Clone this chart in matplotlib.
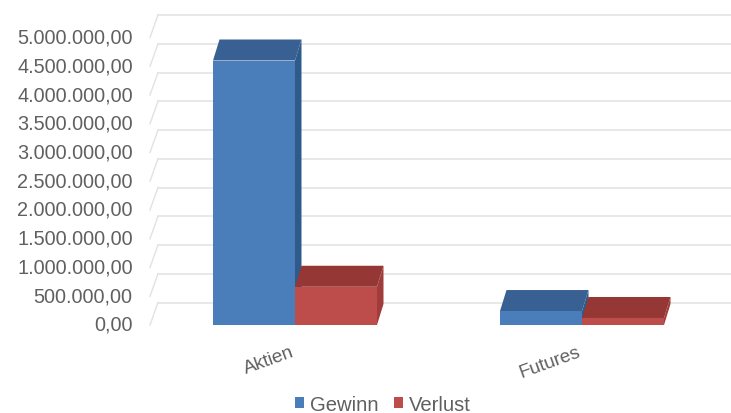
import matplotlib
matplotlib.use("Agg")
import matplotlib.pyplot as plt
from matplotlib.patches import Polygon, Patch
from matplotlib.transforms import ScaledTranslation

categories = ["Aktien", "Futures"]
gewinn = [4600000, 243000]
verlust = [665000, 122000]
y_ticks = [0, 500000, 1000000, 1500000, 2000000, 2500000, 3000000, 3500000, 4000000, 4500000, 5000000]
y_labels = ["0,00", "500.000,00", "1.000.000,00", "1.500.000,00", "2.000.000,00", "2.500.000,00",
            "3.000.000,00", "3.500.000,00", "4.000.000,00", "4.500.000,00", "5.000.000,00"]

W, H = 731, 414
PX_PER_CAT = 287.0
PX_PER_VAL = 57.5 / 1e6
X0_PX, Y0_PX = 295.0, 326.0
DX_PX, DY_PX = 6.5, 21.0
GRID_DX, GRID_DY = 8.0, 22.5
BAR_W = 82.0 / PX_PER_CAT
TEXT = "#606060"
GRID = "#e2e2e2"

plt.rcParams["font.family"] = ["Liberation Sans", "DejaVu Sans"]
fig = plt.figure(figsize=(W / 100, H / 100), dpi=100)
left_px, top_px = 150.0, 10.0
ax = fig.add_axes([left_px / W, (H - Y0_PX) / H, 1 - left_px / W, (Y0_PX - top_px) / H])
ax.set_xlim((left_px - X0_PX) / PX_PER_CAT, (W - X0_PX) / PX_PER_CAT)
ax.set_ylim(0, (Y0_PX - top_px) / PX_PER_VAL)
ax.patch.set_alpha(0)
for s in ax.spines.values():
    s.set_visible(False)

ddx, ddy = DX_PX / PX_PER_CAT, DY_PX / PX_PER_VAL
gdx, gdy = GRID_DX / PX_PER_CAT, GRID_DY / PX_PER_VAL
xmin = ax.get_xlim()[0]
xmax = ax.get_xlim()[1]
for v in y_ticks:
    ax.plot([xmin, xmin + gdx], [v, v + gdy], color=GRID, lw=1.0, zorder=1, clip_on=False)
    ax.plot([xmin + gdx, xmax], [v + gdy, v + gdy], color=GRID, lw=1.1, zorder=1, clip_on=False)


def bar3d(x0, v, front, top, side, z):
    x1 = x0 + BAR_W
    ax.add_patch(Polygon([(x1, 0), (x1 + ddx, ddy), (x1 + ddx, v + ddy), (x1, v)], fc=side, ec="none", zorder=z, clip_on=False))
    ax.add_patch(Polygon([(x0, v), (x0 + ddx, v + ddy), (x1 + ddx, v + ddy), (x1, v)], fc=top, ec="none", zorder=z, clip_on=False))
    ax.add_patch(Polygon([(x0, 0), (x0, v), (x1, v), (x1, 0)], fc=front, ec="none", zorder=z + 0.1, clip_on=False))


for i in range(len(categories)):
    bar3d(i - BAR_W, gewinn[i], "#4a7ebb", "#386092", "#2f5a8c", 2 + i)
    bar3d(i, verlust[i], "#bd4d4a", "#953735", "#a03c39", 2.5 + i)

ax.set_yticks(y_ticks)
ax.set_yticklabels(y_labels)
ax.tick_params(axis="y", length=0, pad=12.5, labelsize=14.3, labelcolor=TEXT)
off_y = ScaledTranslation(0, 2.5 / 100, fig.dpi_scale_trans)
for t in ax.get_yticklabels():
    t.set_transform(t.get_transform() + off_y)

ax.set_xticks([(269 - X0_PX) / PX_PER_CAT, (550 - X0_PX) / PX_PER_CAT])
ax.set_xticklabels(categories)
ax.tick_params(axis="x", length=0, pad=13, labelsize=13.6, labelcolor=TEXT)
for t in ax.get_xticklabels():
    t.set_rotation(20)
    t.set_ha("center")
    t.set_rotation_mode("default")

handles = [Patch(fc="#4a7ebb", label="Gewinn"), Patch(fc="#bd4d4a", label="Verlust")]
fig.legend(handles=handles, loc="center", bbox_to_anchor=(383 / W, 1 - 405.5 / H), ncol=2, frameon=False,
           fontsize=14.6, labelcolor=TEXT, handlelength=0.46, handleheight=0.48, handletextpad=0.3,
           columnspacing=0.75, borderpad=0, borderaxespad=0)
fig.savefig("out.png", dpi=100, facecolor="white")
